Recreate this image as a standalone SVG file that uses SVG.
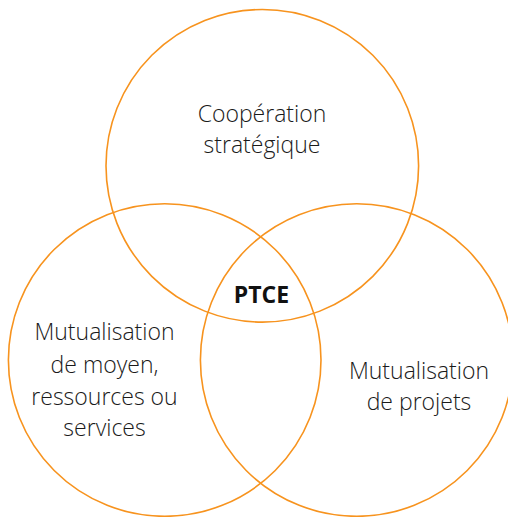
<svg xmlns="http://www.w3.org/2000/svg" width="508" height="517" viewBox="0 0 508 517">
<style>
.c{fill:none;stroke:#F7931E;stroke-width:1.6}
.t{font-family:"Open Sans","Noto Sans",sans-serif;font-size:23px;font-weight:300;fill:#1a1a1a;text-anchor:middle}
.b{font-family:"Open Sans","Noto Sans",sans-serif;font-size:23px;font-weight:700;fill:#111;text-anchor:middle}
</style>
<rect width="508" height="517" fill="#fff"/>
<g id="top">
<circle class="c" cx="262.3" cy="165.8" r="156.3"/>
<text class="t" x="262" y="121.5">Coopération</text>
<text class="t" x="262" y="153.3">stratégique</text>
</g>
<g id="left">
<circle class="c" cx="164.7" cy="360" r="156.3"/>
<text class="t" x="104.5" y="340.3">Mutualisation</text>
<text class="t" x="104.5" y="372.5">de moyen,</text>
<text class="t" x="104.5" y="404.5">ressources ou</text>
<text class="t" x="104.5" y="436.3">services</text>
</g>
<g id="right">
<circle class="c" cx="356.7" cy="360" r="156.3"/>
<text class="t" x="419" y="378.7">Mutualisation</text>
<text class="t" x="419" y="410.3">de projets</text>
</g>
<g id="center">
<text class="b" x="261.5" y="302.7">PTCE</text>
</g>
<g id="connectors"/>
</svg>
